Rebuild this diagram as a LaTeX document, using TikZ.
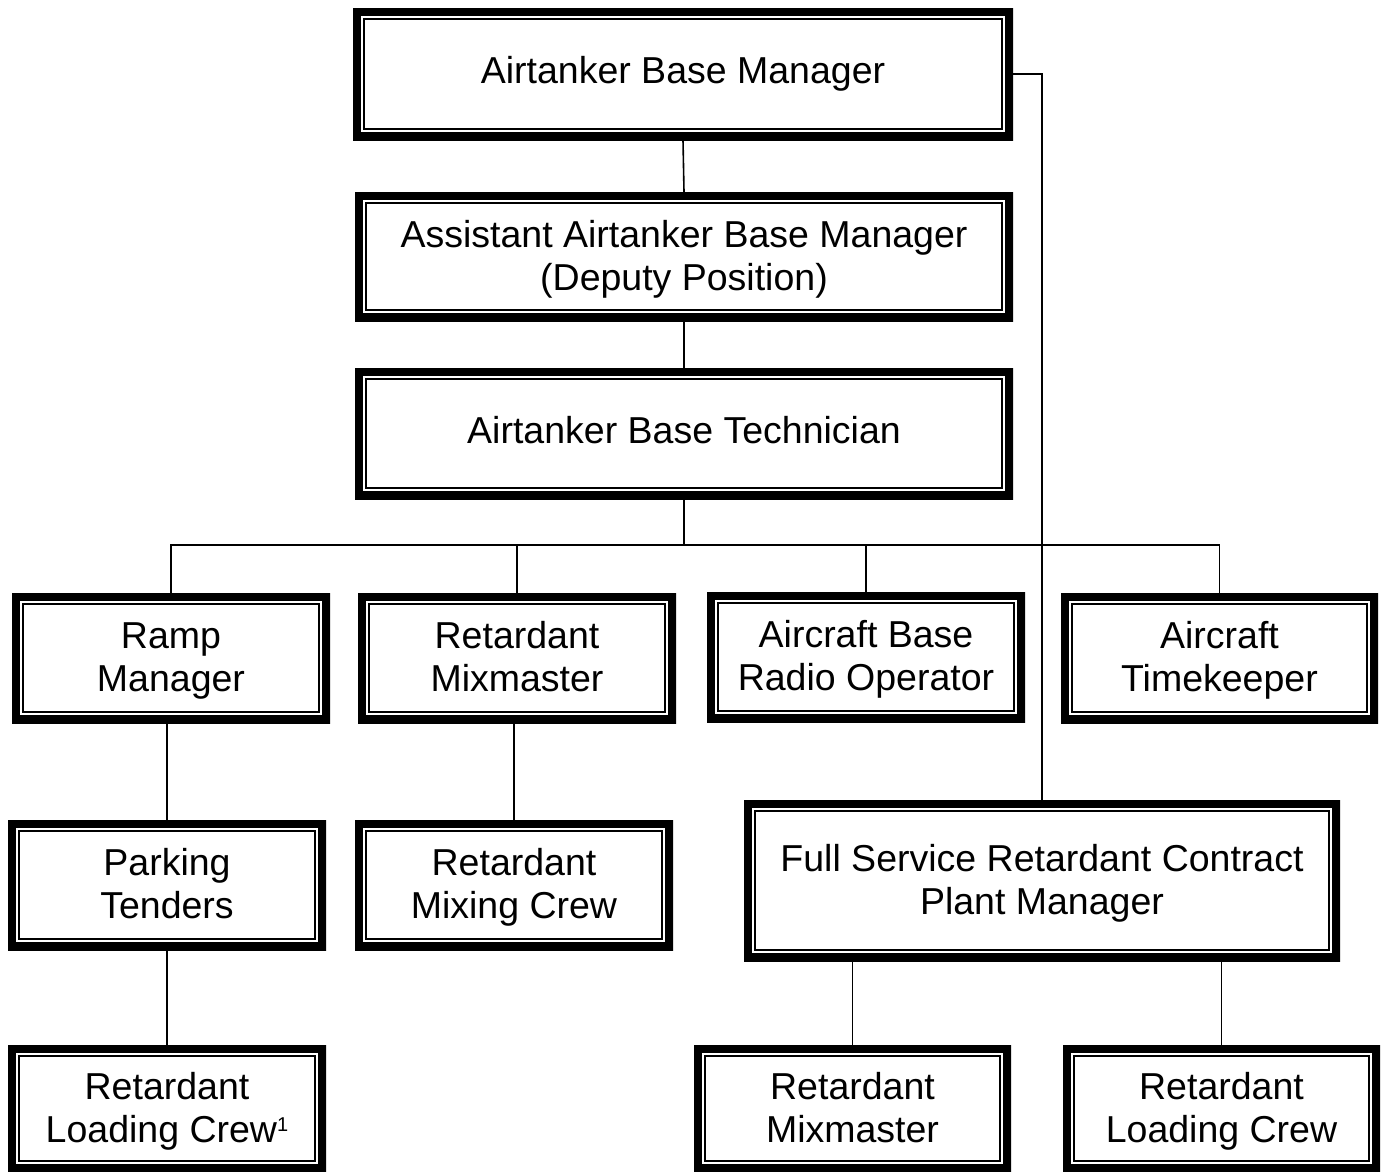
\documentclass[tikz,border=0pt]{standalone}
\usepackage{fontspec}
\setmainfont{Liberation Sans}
\newcommand{\bs}{\rule[-9pt]{0pt}{42pt}}
\newcommand{\sgstrut}{\rule[-9pt]{0pt}{37pt}}
\begin{document}
\begin{tikzpicture}[x=1pt,y=1pt,
  obox/.style={inner sep=0pt, align=center, font=\fontsize{37.5}{43}\selectfont,
    path picture={
      \draw[line width=16pt] (path picture bounding box.south west) rectangle (path picture bounding box.north east);
      \draw[line width=2pt] ([shift={(11pt,11pt)}]path picture bounding box.south west) rectangle ([shift={(-11pt,-11pt)}]path picture bounding box.north east);
    }},
  conn/.style={line width=1.6pt}]
\useasboundingbox (0,0) rectangle (1387,-1171);
\newcommand{\bx}[6]{\node[obox, minimum width={(#4-#2)*1pt}, minimum height={(#5-#3)*1pt}] (#1) at ({(#2+#4)/2},{-(#3+#5)/2}) {#6};}
\bx{mgr}{353}{8}{1013}{140}{Airtanker Base Manager\sgstrut}
\bx{asst}{355}{192}{1013}{321}{Assistant Airtanker Base Manager\bs\\(Deputy Position)\bs}
\bx{tech}{355}{368}{1013}{499}{Airtanker Base Technician\sgstrut}
\bx{ramp}{12}{593}{330}{723}{Ramp\bs\\Manager\bs}
\bx{mix}{358}{593}{676}{723}{Retardant\bs\\Mixmaster\bs}
\bx{radio}{707}{592}{1025}{722}{Aircraft Base\bs\\Radio Operator\bs}
\bx{time}{1061}{593}{1378}{723}{Aircraft\bs\\Timekeeper\bs}
\bx{park}{8}{820}{326}{950}{Parking\bs\\Tenders\bs}
\bx{mixc}{355}{820}{673}{950}{Retardant\bs\\Mixing Crew\bs}
\bx{fsr}{744}{800}{1340}{961}{Full Service Retardant Contract\bs\\Plant Manager\bs}
\bx{load}{8}{1045}{326}{1172}{Retardant\bs\\Loading Crew\raisebox{11pt}{\fontsize{20}{20}\selectfont 1}\bs}
\bx{mix2}{694}{1045}{1011}{1172}{Retardant\bs\\Mixmaster\bs}
\bx{load2}{1063}{1045}{1380}{1172}{Retardant\bs\\Loading Crew\bs}
\coordinate (bus) at (0,-545);
\draw[conn] (mgr.south) -- (asst.north);
\draw[conn] (asst.south) -- (tech.north);
\draw[conn] (tech.south) -- (tech.south |- bus);
\draw[conn] (ramp.north) -- (ramp.north |- bus) -- (time.north |- bus) -- (time.north);
\draw[conn] (mix.north) -- (mix.north |- bus);
\draw[conn] (radio.north) -- (radio.north |- bus);
\draw[conn] (mgr.east) -| (fsr.north);
\draw[conn] (park.north) -- (park.north |- ramp.south);
\draw[conn] (park.south) -- (load.north);
\draw[conn] (mixc.north) -- (mixc.north |- mix.south);
\draw[conn] (mix2.north) -- (mix2.north |- fsr.south);
\draw[conn] (load2.north) -- (load2.north |- fsr.south);
\end{tikzpicture}
\end{document}
